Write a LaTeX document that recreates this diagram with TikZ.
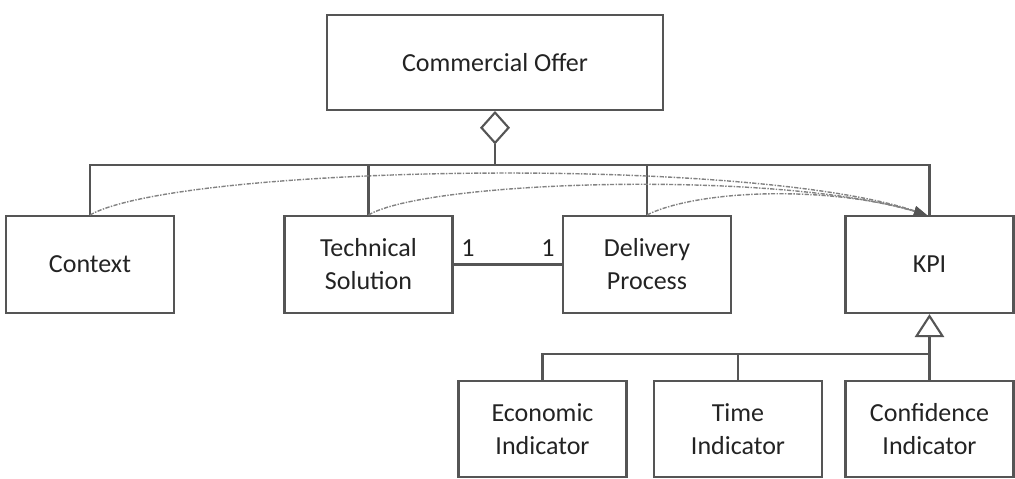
\documentclass[tikz,border=0pt]{standalone}
\usepackage{fontspec}
\setmainfont{Carlito}
\usetikzlibrary{arrows.meta,shapes.geometric}
\definecolor{edge}{RGB}{85,85,85}
\definecolor{ink}{RGB}{35,35,35}
\definecolor{trace}{RGB}{130,130,130}

\begin{document}
\begin{tikzpicture}[x=0.025cm, y=-0.025cm,
    cls/.style={rectangle, draw=edge, line width=1.5pt, text=ink, align=center,
                minimum width=4.2cm, minimum height=2.425cm, inner sep=2pt,
                font=\fontsize{18.5}{23.4}\selectfont},
    link/.style={draw=edge, line width=1.5pt},
    dep/.style={draw=trace, line width=1pt,
                dash pattern=on 3pt off 1pt on 1pt off 1pt,
                -{Triangle[length=9pt,width=7pt,color=edge]}},
    agg/.style={diamond, draw=edge, fill=white, line width=1.5pt,
                minimum width=0.7cm, minimum height=0.78cm, inner sep=0pt},
    mult/.style={text=ink, font=\fontsize{18.5}{23.4}\selectfont, inner sep=0pt}]
  \useasboundingbox (0,0) rectangle (1015,479);

  % ---------- the offer and its parts ------------------------------------
  \node[cls, minimum width=8.4cm, minimum height=2.375cm] (offer) at (495,62.5) {Commercial Offer};
  \node[cls] (ctx)  at (90,264.5)  {Context};
  \node[cls] (tech) at (368.5,264.5) {Technical\\ Solution};
  \node[cls] (del)  at (647,264.5) {Delivery\\ Process};
  \node[cls] (kpi)  at (929.5,264.5) {KPI};

  \node[agg, anchor=north] (dia) at (offer.south) {};
  \coordinate (bustop) at (0,165);
  \draw[link] (ctx.north) -- (ctx.north |- bustop) -- (kpi.north |- bustop) -- (kpi.north);
  \foreach \n in {tech,del} { \draw[link] (\n.north) -- (\n.north |- bustop); }
  \draw[link] (dia.south) -- (dia.south |- bustop);

  % ---------- 1 -- 1 association ------------------------------------------
  \draw[link] (tech.east) -- (del.west);
  \node[mult] (m1) at (468,248) {1};
  \node[mult] (m2) at (548,248) {1};

  % ---------- dependencies on the KPI --------------------------------------
  \coordinate (kpitip) at ([xshift=-0.07cm]kpi.north);
  \draw[dep] (ctx.north)  .. controls +(90,-50) and +(-180,-60) .. (kpitip);
  \draw[dep] (tech.north) .. controls +(60,-35) and +(-150,-45) .. (kpitip);
  \draw[dep] (del.north)  .. controls +(50,-25) and +(-100,-30) .. (kpitip);

  % ---------- kinds of indicator -------------------------------------------
  \node[cls, minimum height=2.4cm] (eco)  at (542.5,429) {Economic\\ Indicator};
  \node[cls, minimum height=2.4cm] (time) at (738,429)   {Time\\ Indicator};
  \node[cls, minimum height=2.4cm] (conf) at (929.5,429) {Confidence\\ Indicator};

  \coordinate (gen) at ([yshift=-0.05cm]kpi.south);
  \draw[link, fill=white] (gen) -- ++(-13,20) -- ++(26,0) -- cycle;
  \coordinate (genbase) at ([yshift=-20*0.025cm]gen);
  \coordinate (buslow) at (0,354);
  \draw[link] (genbase) -- (conf.north);
  \draw[link] (eco.north) -- (eco.north |- buslow) -- (conf.north |- buslow);
  \draw[link] (time.north) -- (time.north |- buslow);
\end{tikzpicture}
\end{document}
